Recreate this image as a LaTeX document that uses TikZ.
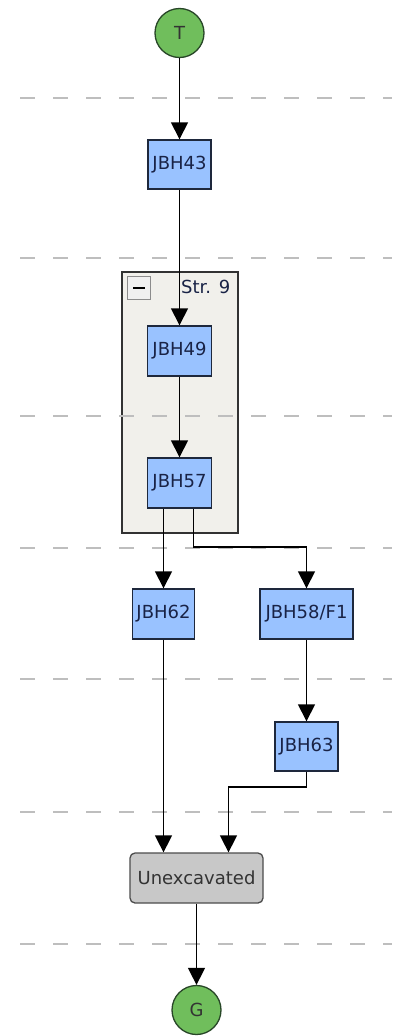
\documentclass[tikz,border=0pt]{standalone}
\usepackage{fontspec}
\setmainfont{DejaVu Sans}
\usetikzlibrary{arrows.meta,calc}
\definecolor{boxblue}{RGB}{153,194,255}
\definecolor{boxedge}{RGB}{30,40,60}
\definecolor{txt}{RGB}{25,35,70}
\definecolor{termgreen}{RGB}{112,190,92}
\definecolor{termedge}{RGB}{40,70,40}
\definecolor{grpfill}{RGB}{241,240,235}
\definecolor{grpedge}{RGB}{50,50,50}
\definecolor{unexc}{RGB}{200,200,200}
\definecolor{dashgray}{RGB}{190,190,190}
\tikzset{
  unit/.style={draw=boxedge, line width=1.4pt, fill=boxblue, text=txt, minimum width=63pt, minimum height=49pt, inner sep=0pt, font=\fontsize{18}{21}\selectfont},
  term/.style={circle, draw=termedge, line width=1.3pt, fill=termgreen, text=black!80, minimum size=49pt, inner sep=0pt, font=\fontsize{18}{21}\selectfont},
  endbox/.style={draw=black!70, line width=1.3pt, fill=unexc, text=black!80, rounded corners=5pt, minimum width=133pt, minimum height=50pt, inner sep=0pt, font=\fontsize{18}{21}\selectfont},
  edge/.style={line width=1.5pt, -{Triangle[width=17pt,length=17pt]}},
  phaseline/.style={draw=dashgray, line width=1.8pt, dash pattern=on 15pt off 18pt},
}
\begin{document}
\begin{tikzpicture}[x=1pt,y=-1pt]
\useasboundingbox (0,0) rectangle (392,1036);
% group box
\draw[fill=grpfill, draw=grpedge, line width=1.3pt] (122,272) rectangle (238,533);
\node[draw=black!45, fill=black!6, line width=0.8pt, minimum size=23pt, inner sep=0pt] (btn) at (139,288) {};
\draw[line width=2.4pt] ($(btn.center)+(-6,0)$) -- ($(btn.center)+(6,0)$);
\node[anchor=west, text=txt, font=\fontsize{18}{21}\selectfont, inner sep=0pt] (grplabel) at (181,287) {Str. 9};
% phase lines
\foreach \y in {98,258,416,548,679,812,944} {
  \draw[phaseline] (20,\y) -- (392,\y);
}
% nodes
\node[term] (T) at (179.5,33) {T};
\node[unit] (J43) at (179.5,164.5) {JBH43};
\node[unit, minimum width=64pt, minimum height=50pt] (J49) at (179.5,351) {JBH49};
\node[unit, minimum width=64pt, minimum height=50pt] (J57) at (179.5,483) {JBH57};
\node[unit, minimum width=62pt, minimum height=50pt] (J62) at (163.5,614) {JBH62};
\node[unit, minimum width=93pt, minimum height=50pt] (J58) at (306.5,614) {JBH58/F1};
\node[unit, minimum width=63pt, minimum height=49pt] (J63) at (306.5,746.5) {JBH63};
\node[endbox] (U) at (196.5,878) {Unexcavated};
\node[term] (G) at (196.5,1010) {G};
% edges
\draw[edge] (T) -- (T |- J43.north);
\draw[edge] (J43) -- (J43 |- J49.north);
\draw[edge] (J49) -- (J57);
\draw[edge] (J57.south -| J62.north) -- (J62.north);
\coordinate (r57) at ($(J57.south)+(14,0)$);
\draw[edge] (r57) |- ($(J58.north)+(0,-41.5)$) -- (J58.north);
\draw[edge] (J58) -- (J63);
\draw[edge] (J62.south) -- (J62.south |- U.north);
\coordinate (ur) at ($(U.north)+(32,0)$);
\draw[edge] (J63.south) |- ($(ur)+(0,-65.5)$) -- (ur);
\draw[edge] (U) -- (U.south |- G.north);
\end{tikzpicture}
\end{document}
